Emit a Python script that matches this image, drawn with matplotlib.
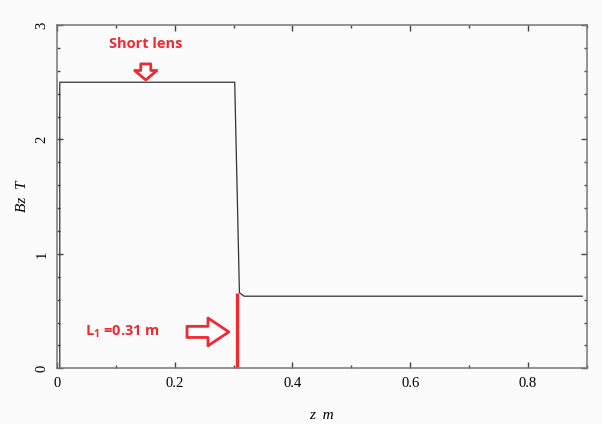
import matplotlib.pyplot as plt
from matplotlib.ticker import MultipleLocator

# field profile along the axis
z_m = [0.005, 0.005, 0.302, 0.310, 0.318, 0.892]
bz_T = [0.0, 2.5, 2.5, 0.66, 0.63, 0.63]

lens_edge = 0.306      # L1 marker
lens_edge_top = 0.66

red = '#ee2a35'
serif = 'Liberation Serif'

fig = plt.figure(figsize=(6.02, 4.24), dpi=100, facecolor='#fbfbfb')
ax = fig.add_axes([0.0944, 0.1314, 0.8806, 0.8096], facecolor='#fbfbfb')

ax.plot(z_m, bz_T, color='#333333', lw=0.9)

ax.set_xlim(0, 0.9)
ax.set_ylim(0, 3)

ax.xaxis.set_major_locator(MultipleLocator(0.2))
ax.xaxis.set_minor_locator(MultipleLocator(0.1))
ax.yaxis.set_major_locator(MultipleLocator(1))
ax.yaxis.set_minor_locator(MultipleLocator(0.2))
ax.tick_params(which='both', direction='in', top=True, right=True,
               color='#444444', width=1)
ax.tick_params(which='major', length=4.5, labelsize=10.5, pad=6)
ax.tick_params(which='minor', length=2.5)
ax.set_xticks([0, 0.2, 0.4, 0.6, 0.8])
ax.set_xticklabels(['0', '0.2', '0.4', '0.6', '0.8'], family=serif)
ax.set_yticks([0, 1, 2, 3])
ax.set_yticklabels(['0', '1', '2', '3'], family=serif, rotation=90, va='center')
for s in ax.spines.values():
    s.set_color('#777777')
    s.set_linewidth(1.1)

ax.set_xlabel('z  m', family=serif, style='italic', fontsize=11, labelpad=14)
ax.set_ylabel('Bz  T', family=serif, style='italic', fontsize=11)
ax.yaxis.set_label_coords(-0.052, 0.5)

# red annotations
lab = ['Open Sans', 'DejaVu Sans']
ax.text(0.151, 2.83, 'Short lens', color=red, fontsize=10.5, weight='bold',
        family=lab, ha='center', va='center')
ax.annotate('', xy=(0.151, 2.52), xytext=(0.151, 2.66),
            arrowprops=dict(arrowstyle='simple,head_length=0.34,head_width=0.8,tail_width=0.36',
                            fc='white', ec=red, lw=2, shrinkA=0, shrinkB=0,
                            mutation_scale=20))

ax.text(0.112, 0.32, r'L$_\mathregular{1}$ =0.31 m', color=red, fontsize=10.5,
        weight='bold', family=lab, ha='center', va='center')
ax.annotate('', xy=(0.292, 0.318), xytext=(0.221, 0.318),
            arrowprops=dict(arrowstyle='simple,head_length=0.75,head_width=1.0,tail_width=0.4',
                            fc='white', ec=red, lw=2, shrinkA=0, shrinkB=0,
                            mutation_scale=20))
ax.plot([lens_edge, lens_edge], [0, lens_edge_top], color=red, lw=2.4,
        solid_capstyle='butt', clip_on=False)

fig.savefig('out.png', dpi=100, facecolor=fig.get_facecolor())
